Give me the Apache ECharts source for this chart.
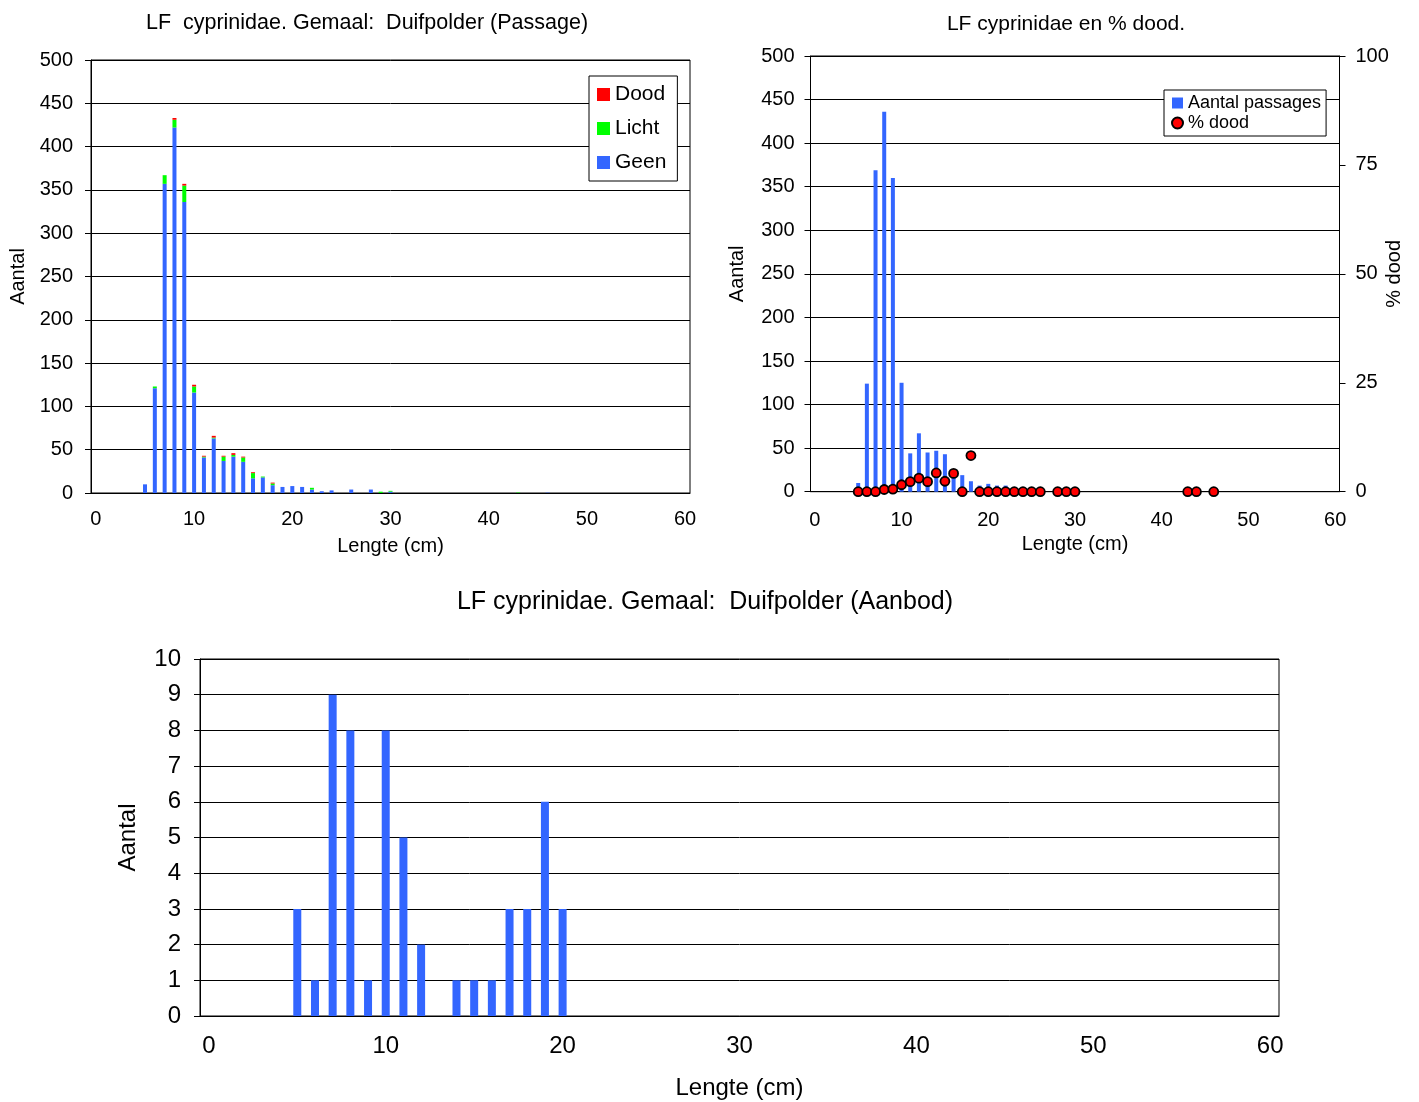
<!DOCTYPE html>
<html>
<head>
<meta charset="utf-8">
<title>LF cyprinidae Duifpolder</title>
<script src="https://cdn.jsdelivr.net/npm/echarts@6/dist/echarts.min.js"></script>
<style>
  html, body { margin: 0; padding: 0; background: #fff; }
  #chart { width: 1419px; height: 1102px; }
</style>
</head>
<body>
<div id="chart"></div>
<script>
// lengteklassen 0..60 cm
var lengtes = [];
for (var i = 0; i <= 60; i++) lengtes.push(String(i));

// passage (bovenste grafiek links), per lengte: geen / licht / dood
var passLen   = [5, 6, 7, 8, 9, 10, 11, 12, 13, 14, 15, 16, 17, 18, 19, 20, 21, 22, 23, 24, 26, 28, 29, 30, 43, 46];
var passGeen  = [10, 121, 357, 422, 336, 116, 41, 63, 37, 42, 36, 17, 18, 9, 7, 8, 7, 4, 2, 3, 4, 4, 0, 1.5, 0, 0.4];
var passLicht = [0, 2, 10, 9, 19, 7, 1, 1, 5, 2, 5, 6, 1, 2, 0, 0, 0, 2, 0, 0, 0, 0, 1.5, 1, 0.5, 0];
var passDood  = [0, 0, 0, 2, 2, 2, 1, 2, 1, 2, 1, 1, 0, 1, 0, 0, 0, 0, 0, 0, 0, 0, 0, 0, 0, 0];

// aantal passages (rechts)
var totLen    = [5, 6, 7, 8, 9, 10, 11, 12, 13, 14, 15, 16, 17, 18, 19, 20, 21, 22, 23, 24, 26, 28, 29, 30, 43, 46];
var totAantal = [10, 124, 369, 436, 360, 125, 44, 67, 45, 47, 43, 23, 19, 12, 7, 9, 7, 7, 2, 3, 4, 4, 2, 3, 0.5, 0.4];

// % dood (rechts)
var pctLen  = [5, 6, 7, 8, 9, 10, 11, 12, 13, 14, 15, 16, 17, 18, 19, 20, 21, 22, 23, 24, 25, 26, 28, 29, 30, 43, 44, 46];
var pctDood = [0, 0, 0, 0.5, 0.6, 1.6, 2.3, 3.1, 2.3, 4.3, 2.4, 4.2, 0, 8.3, 0, 0, 0, 0, 0, 0, 0, 0, 0, 0, 0, 0, 0, 0];

// aanbod (onderste grafiek)
var aanLen    = [5, 6, 7, 8, 9, 10, 11, 12, 14, 15, 16, 17, 18, 19, 20];
var aanAantal = [3, 1, 9, 8, 1, 8, 5, 2, 1, 1, 1, 3, 3, 6, 3];

function naarReeks(lens, vals) {
  var out = lengtes.map(function () { return 0; });
  for (var k = 0; k < lens.length; k++) out[lens[k]] = vals[k];
  return out;
}

var FONT = 'Liberation Sans';
var BLAUW = '#3366FF', GROEN = '#00FF00', ROOD = '#FF0000';

function xAs(gridIndex, size, margin, nameGap) {
  return {
    type: 'category',
    gridIndex: gridIndex,
    data: lengtes,
    name: 'Lengte (cm)',
    nameLocation: 'middle',
    nameGap: nameGap,
    nameMoveOverlap: false,
    nameTextStyle: { fontFamily: FONT, fontSize: size, color: '#000' },
    axisLine: { lineStyle: { color: '#000', width: 1 } },
    axisTick: { interval: 4, length: 6, lineStyle: { color: '#000' } },
    axisLabel: { interval: 9, margin: margin, fontFamily: FONT, fontSize: size, color: '#000' },
    splitLine: { show: false }
  };
}

function yAs(gridIndex, max, interval, size, margin, name, nameGap, pos) {
  return {
    type: 'value',
    gridIndex: gridIndex,
    position: pos || 'left',
    min: 0, max: max, interval: interval,
    name: name,
    nameLocation: 'middle',
    nameGap: nameGap,
    nameMoveOverlap: false,
    nameRotate: 90,
    nameTextStyle: { fontFamily: FONT, fontSize: size, color: '#000' },
    axisLine: { show: true, lineStyle: { color: '#000', width: 1 } },
    axisTick: { show: true, length: 6, lineStyle: { color: '#000' } },
    axisLabel: { margin: margin, fontFamily: FONT, fontSize: size, color: '#000' },
    splitLine: { show: pos !== 'right', lineStyle: { color: '#000', width: 1 } }
  };
}

var chart = echarts.init(document.getElementById('chart'), null, { renderer: 'canvas' });

chart.setOption({
  animation: false,
  backgroundColor: '#fff',
  title: [
    { text: 'LF  cyprinidae. Gemaal:  Duifpolder (Passage)', left: 367, top: 12, textAlign: 'center', padding: 0,
      textStyle: { fontFamily: FONT, fontSize: 21.5, fontWeight: 'normal', color: '#000' } },
    { text: 'LF cyprinidae en % dood.', left: 1066, top: 14, textAlign: 'center', padding: 0,
      textStyle: { fontFamily: FONT, fontSize: 21, fontWeight: 'normal', color: '#000' } },
    { text: 'LF cyprinidae. Gemaal:  Duifpolder (Aanbod)', left: 705, top: 590, textAlign: 'center', padding: 0,
      textStyle: { fontFamily: FONT, fontSize: 25, fontWeight: 'normal', color: '#000' } }
  ],
  legend: [
    {
      data: ['Dood', 'Licht', 'Geen'],
      orient: 'vertical',
      left: 589, top: 76,
      padding: [8, 11, 8, 8],
      itemGap: 13,
      itemWidth: 13, itemHeight: 13,
      icon: 'rect',
      backgroundColor: '#fff',
      borderColor: '#000', borderWidth: 1,
      textStyle: { fontFamily: FONT, fontSize: 21, color: '#000', lineHeight: 21 }
    },
    {
      data: [{ name: 'Aantal passages', icon: 'rect' }, { name: '% dood', icon: 'circle' }],
      orient: 'vertical',
      left: 1164, top: 90,
      padding: [4, 5, 4, 7],
      itemGap: 2,
      itemWidth: 11, itemHeight: 11,
      backgroundColor: '#fff',
      borderColor: '#000', borderWidth: 1,
      textStyle: { fontFamily: FONT, fontSize: 18, color: '#000', lineHeight: 18 }
    }
  ],
  grid: [
    { left: 91, top: 60, width: 599, height: 433, show: true, borderColor: '#000', borderWidth: 1, backgroundColor: 'transparent' },
    { left: 810.5, top: 56, width: 529, height: 435.7, show: true, borderColor: '#000', borderWidth: 1, backgroundColor: 'transparent' },
    { left: 200, top: 659, width: 1079, height: 357, show: true, borderColor: '#000', borderWidth: 1, backgroundColor: 'transparent' }
  ],
  xAxis: [
    xAs(0, 20, 16, 43),
    xAs(1, 20, 19, 43),
    xAs(2, 24, 18, 60)
  ],
  yAxis: [
    yAs(0, 500, 50, 20, 18, 'Aantal', 63),
    yAs(1, 500, 50, 20, 16, 'Aantal', 63),
    yAs(1, 100, 25, 20, 16, '% dood', 45, 'right'),
    yAs(2, 10, 1, 24, 19, 'Aantal', 60)
  ],
  series: [
    { name: 'Geen', type: 'bar', stack: 'passage', xAxisIndex: 0, yAxisIndex: 0, barWidth: 4,
      itemStyle: { color: BLAUW }, data: naarReeks(passLen, passGeen) },
    { name: 'Licht', type: 'bar', stack: 'passage', xAxisIndex: 0, yAxisIndex: 0, barWidth: 4,
      itemStyle: { color: GROEN }, data: naarReeks(passLen, passLicht) },
    { name: 'Dood', type: 'bar', stack: 'passage', xAxisIndex: 0, yAxisIndex: 0, barWidth: 4,
      itemStyle: { color: ROOD }, data: naarReeks(passLen, passDood) },

    { name: 'Aantal passages', type: 'bar', xAxisIndex: 1, yAxisIndex: 1, barWidth: 4,
      itemStyle: { color: BLAUW }, data: naarReeks(totLen, totAantal) },
    { name: '% dood', type: 'scatter', xAxisIndex: 1, yAxisIndex: 2, symbol: 'circle', symbolSize: 9, clip: false, z: 5,
      itemStyle: { color: ROOD, borderColor: '#000', borderWidth: 1.8, opacity: 1 },
      data: pctLen.map(function (l, k) { return [String(l), pctDood[k]]; }) },

    { name: 'Aanbod', type: 'bar', xAxisIndex: 2, yAxisIndex: 3, barWidth: 8,
      itemStyle: { color: BLAUW }, data: naarReeks(aanLen, aanAantal) }
  ]
});
</script>
</body>
</html>
